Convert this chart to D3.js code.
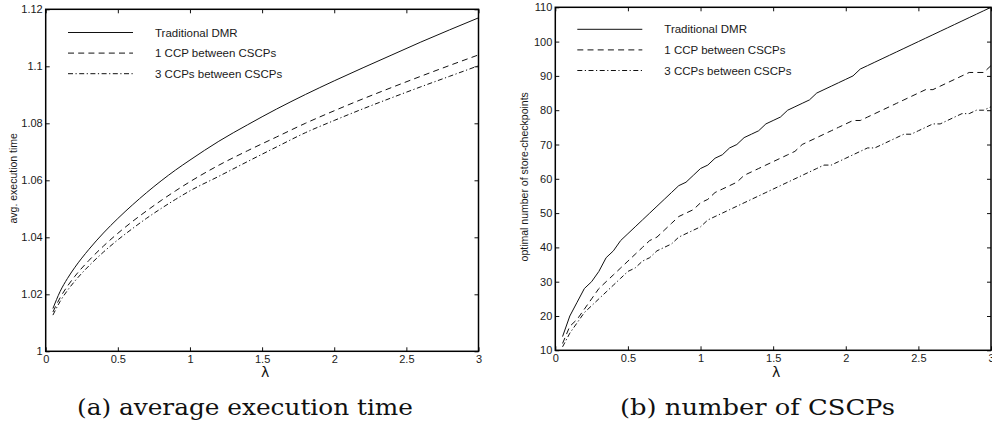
<!DOCTYPE html>
<html>
<head>
<meta charset="utf-8">
<script src="https://cdn.jsdelivr.net/npm/d3@7/dist/d3.min.js"></script>
<style>
  html, body { margin: 0; padding: 0; background: #fff; }
  svg { display: block; }
  .tick text { font-family: "Liberation Sans", Arial, sans-serif; font-size: 11px; fill: #1a1a1a; }
  .tick line { stroke: #111; stroke-width: 1; }
</style>
</head>
<body>
<svg id="fig" width="992" height="428"></svg>
<script>
// ---- x values (lambda) for panel (a) ----
const lambdaA = [0.05, 0.1, 0.15, 0.2, 0.3, 0.4, 0.5, 0.6, 0.7, 0.8, 0.9, 1.0,
                 1.2, 1.4, 1.6, 1.8, 2.0, 2.2, 2.4, 2.6, 2.8, 3.0];

// (a) average execution time
const execTraditional = [1.0150, 1.0210, 1.0255, 1.0293, 1.0358, 1.0415, 1.0466, 1.0513, 1.0557, 1.0598, 1.0636, 1.0671,
                         1.0737, 1.0795, 1.0850, 1.0901, 1.0949, 1.0995, 1.1040, 1.1085, 1.1128, 1.1170];
const exec1CCP        = [1.0138, 1.0188, 1.0228, 1.0262, 1.0319, 1.0369, 1.0414, 1.0455, 1.0493, 1.0529, 1.0563, 1.0595,
                         1.0653, 1.0704, 1.0752, 1.0800, 1.0844, 1.0886, 1.0926, 1.0965, 1.1003, 1.1040];
const exec3CCP        = [1.0127, 1.0175, 1.0213, 1.0245, 1.0300, 1.0348, 1.0391, 1.0430, 1.0467, 1.0501, 1.0533, 1.0563,
                         1.0614, 1.0666, 1.0717, 1.0767, 1.0810, 1.0851, 1.0890, 1.0928, 1.0965, 1.1002];

// (b) optimal number of store-checkpoints, lambda = 0.05 ... 3.0 step 0.05
const lambdaB = [0.05,0.1,0.15,0.2,0.25,0.3,0.35,0.4,0.45,0.5,0.55,0.6,0.65,0.7,0.75,0.8,0.85,0.9,0.95,1.0,
                 1.05,1.1,1.15,1.2,1.25,1.3,1.35,1.4,1.45,1.5,1.55,1.6,1.65,1.7,1.75,1.8,1.85,1.9,1.95,2.0,
                 2.05,2.1,2.15,2.2,2.25,2.3,2.35,2.4,2.45,2.5,2.55,2.6,2.65,2.7,2.75,2.8,2.85,2.9,2.95,3.0];
const cscpTraditional = [14,20,24,28,30,33,37,39,42,44,46,48,50,52,54,56,58,59,61,63,
                         64,66,67,69,70,72,73,74,76,77,78,80,81,82,83,85,86,87,88,89,
                         90,92,93,94,95,96,97,98,99,100,101,102,103,104,105,106,107,108,109,110];
const cscp1CCP        = [12,17,19,22,25,28,30,32,34,36,38,40,42,43,45,47,49,50,51,53,
                         54,56,57,58,59,61,62,63,64,65,66,67,68,70,71,72,73,74,75,76,
                         77,77,78,79,80,81,82,83,84,85,86,86,87,88,89,90,91,91,91,93];
const cscp3CCP        = [11,15,18,21,23,25,27,29,31,33,34,36,37,39,40,41,43,44,45,46,
                         48,49,50,51,52,53,54,55,56,57,58,59,60,61,62,63,64,64,65,66,
                         67,68,69,69,70,71,72,73,73,74,75,76,76,77,78,79,79,80,80,81];

const seriesNames = ["Traditional DMR", "1 CCP between CSCPs", "3 CCPs between CSCPs"];
const xTicks = [0, 0.5, 1, 1.5, 2, 2.5, 3];
const xTickLabels = ["0", "0.5", "1", "1.5", "2", "2.5", "3"];
const yTicksA = [1, 1.02, 1.04, 1.06, 1.08, 1.1, 1.12];
const yTickLabelsA = ["1", "1.02", "1.04", "1.06", "1.08", "1.1", "1.12"];
const yTicksB = [10, 20, 30, 40, 50, 60, 70, 80, 90, 100, 110];
const yTickLabelsB = yTicksB.map(String);

// line styles for the three series
const dashes = [null, "6,4.2", "5,2.5,1.2,2.5"];

const svg = d3.select("#fig");

function panel(cfg) {
  const x = d3.scaleLinear().domain([0, 3]).range([cfg.left, cfg.right]);
  const y = d3.scaleLinear().domain(cfg.yDomain).range([cfg.bottom, cfg.top]);
  const g = svg.append("g");

  const fmtX = d => xTickLabels[xTicks.indexOf(d)];
  const fmtY = d => cfg.yLabels[cfg.yTicks.indexOf(d)];

  // inward ticks on all four sides
  g.append("g").attr("transform", `translate(0,${cfg.bottom})`)
    .call(d3.axisBottom(x).tickValues(xTicks).tickFormat(fmtX).tickSizeInner(-4).tickSizeOuter(0).tickPadding(4))
    .call(a => a.select(".domain").remove());
  g.append("g").attr("transform", `translate(0,${cfg.top})`)
    .call(d3.axisTop(x).tickValues(xTicks).tickFormat("").tickSizeInner(-4).tickSizeOuter(0))
    .call(a => a.select(".domain").remove());
  g.append("g").attr("transform", `translate(${cfg.left},0)`)
    .call(d3.axisLeft(y).tickValues(cfg.yTicks).tickFormat(fmtY).tickSizeInner(-4).tickSizeOuter(0).tickPadding(3))
    .call(a => a.select(".domain").remove());
  g.append("g").attr("transform", `translate(${cfg.right},0)`)
    .call(d3.axisRight(y).tickValues(cfg.yTicks).tickFormat("").tickSizeInner(-4).tickSizeOuter(0))
    .call(a => a.select(".domain").remove());

  // curves
  const line = d3.line().x(d => x(d[0])).y(d => y(d[1])).curve(cfg.curve);
  cfg.series.forEach((vals, i) => {
    g.append("path")
      .datum(cfg.xs.map((l, k) => [l, vals[k]]))
      .attr("d", line)
      .attr("fill", "none")
      .attr("stroke", "#111")
      .attr("stroke-width", 1)
      .attr("stroke-dasharray", dashes[i]);
  });

  // frame
  g.append("rect")
    .attr("x", cfg.left).attr("y", cfg.top)
    .attr("width", cfg.right - cfg.left).attr("height", cfg.bottom - cfg.top)
    .attr("fill", "none").attr("stroke", "#000").attr("stroke-width", 1.5);

  // legend
  seriesNames.forEach((name, i) => {
    const ly = cfg.legendY + i * 20.6;
    g.append("line")
      .attr("x1", cfg.legendX).attr("x2", cfg.legendX + 65)
      .attr("y1", ly).attr("y2", ly)
      .attr("stroke", "#111").attr("stroke-width", 1)
      .attr("stroke-dasharray", dashes[i]);
    g.append("text")
      .attr("x", cfg.legendX + 87).attr("y", ly + 4)
      .attr("font-family", "Liberation Sans, Arial, sans-serif")
      .attr("font-size", 11.5).attr("fill", "#1a1a1a")
      .text(name);
  });

  // axis titles
  g.append("text")
    .attr("x", (cfg.left + cfg.right) / 2 + 3).attr("y", 377)
    .attr("text-anchor", "middle")
    .attr("font-family", "DejaVu Sans, sans-serif")
    .attr("font-size", 14).attr("fill", "#111")
    .text("λ");
  g.append("text")
    .attr("transform", `translate(${cfg.yTitleX},${(cfg.top + cfg.bottom) / 2 - 2}) rotate(-90)`)
    .attr("text-anchor", "middle")
    .attr("font-family", "Liberation Sans, Arial, sans-serif")
    .attr("font-size", 10.5).attr("fill", "#1a1a1a")
    .text(cfg.yTitle);

  // caption
  g.append("text")
    .attr("x", cfg.capX).attr("y", 415)
    .attr("font-family", "DejaVu Serif, serif")
    .attr("font-size", 22).attr("fill", "#111")
    .attr("textLength", cfg.capW).attr("lengthAdjust", "spacingAndGlyphs")
    .text(cfg.caption);
}

panel({
  left: 45.7, right: 478.5, top: 9.3, bottom: 351.3,
  yDomain: [1, 1.12], yTicks: yTicksA, yLabels: yTickLabelsA,
  xs: lambdaA, series: [execTraditional, exec1CCP, exec3CCP],
  curve: d3.curveMonotoneX,
  legendX: 68, legendY: 32.5,
  yTitle: "avg. execution time", yTitleX: 17,
  caption: "(a) average execution time", capX: 77, capW: 336
});

panel({
  left: 555.3, right: 991, top: 7.3, bottom: 350.3,
  yDomain: [10, 110], yTicks: yTicksB, yLabels: yTickLabelsB,
  xs: lambdaB, series: [cscpTraditional, cscp1CCP, cscp3CCP],
  curve: d3.curveLinear,
  legendX: 577.3, legendY: 29.3,
  yTitle: "optimal number of store-checkpoints", yTitleX: 528,
  caption: "(b) number of CSCPs", capX: 620, capW: 275
});
</script>
</body>
</html>
